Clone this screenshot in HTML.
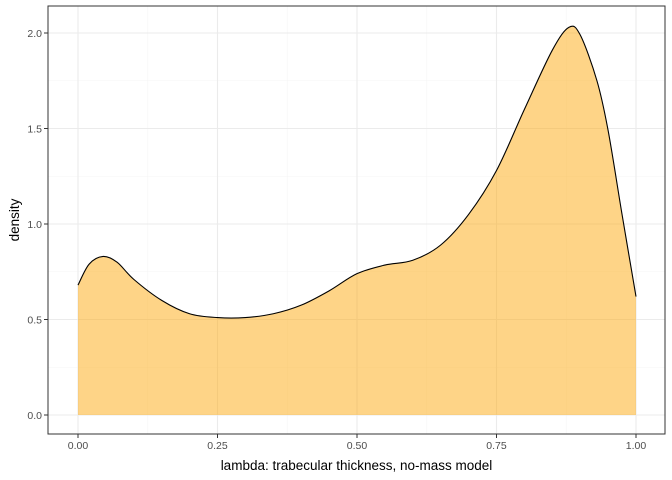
<!DOCTYPE html>
<html><head><meta charset="utf-8"><style>
body{margin:0;background:#fff;}
svg{display:block;font-family:"Liberation Sans",sans-serif;}
</style></head><body>
<svg id="chart" width="672" height="480"></svg>
<script>
const xs=[0,0.02,0.045,0.07,0.1,0.15,0.2,0.25,0.3,0.35,0.4,0.45,0.5,0.55,0.6,0.65,0.7,0.75,0.8,0.85,0.88,0.9,0.93,0.95,0.975,1.0];
const ys=[0.68,0.79,0.83,0.80,0.71,0.60,0.53,0.51,0.51,0.53,0.575,0.65,0.74,0.785,0.81,0.89,1.05,1.28,1.6,1.91,2.03,1.99,1.75,1.49,1.05,0.62];
const xTicks=[0,0.25,0.5,0.75,1.0];
const xLabels=["0.00","0.25","0.50","0.75","1.00"];
const yTicks=[0,0.5,1.0,1.5,2.0];
const yLabels=["0.0","0.5","1.0","1.5","2.0"];
const NS="http://www.w3.org/2000/svg";
const svg=document.getElementById('chart');
const L=48,R=665,T=6,B=434;
const X=v=>78+v*558, Y=v=>415-v*191;
function el(t,a,p){const e=document.createElementNS(NS,t);for(const k in a)e.setAttribute(k,a[k]);(p||svg).appendChild(e);return e;}
// minor grid
for(let i=0;i<xTicks.length-1;i++){const g=el('line',{x1:X((xTicks[i]+xTicks[i+1])/2),x2:X((xTicks[i]+xTicks[i+1])/2),y1:T,y2:B,stroke:'#F5F5F5','stroke-width':0.6});
}
for(let i=0;i<yTicks.length;i++){const v=yTicks[i]+0.25;if(Y(v)<T)continue;const g=el('line',{x1:L,x2:R,y1:Y(v),y2:Y(v),stroke:'#F5F5F5','stroke-width':0.6});
}
xTicks.forEach((v,i)=>{const g=el('line',{x1:X(v),x2:X(v),y1:T,y2:B,stroke:'#EBEBEB','stroke-width':1.1});

const tk=el('line',{x1:X(v),x2:X(v),y1:B,y2:B+4,stroke:'#333'});

const t=el('text',{x:X(v),y:B+15,'text-anchor':'middle','font-size':10.5,fill:'#4D4D4D'});t.textContent=xLabels[i];
});
yTicks.forEach((v,i)=>{const g=el('line',{x1:L,x2:R,y1:Y(v),y2:Y(v),stroke:'#EBEBEB','stroke-width':1.1});

const tk=el('line',{x1:L-4,x2:L,y1:Y(v),y2:Y(v),stroke:'#333'});

const t=el('text',{x:L-6,y:Y(v)+4,'text-anchor':'end','font-size':10.5,fill:'#4D4D4D'});t.textContent=yLabels[i];
});
// smooth curve
const pts=xs.map((x,i)=>[X(x),Y(ys[i])]);
let d=`M${pts[0][0]},${pts[0][1]}`;
for(let i=0;i<pts.length-1;i++){const p0=pts[Math.max(0,i-1)],p1=pts[i],p2=pts[i+1],p3=pts[Math.min(pts.length-1,i+2)];
d+=` C${p1[0]+(p2[0]-p0[0])/6},${p1[1]+(p2[1]-p0[1])/6} ${p2[0]-(p3[0]-p1[0])/6},${p2[1]-(p3[1]-p1[1])/6} ${p2[0]},${p2[1]}`;}
const area=el('path',{d:d+` L${X(1)},${Y(0)} L${X(0)},${Y(0)} Z`,fill:'#FDA90F','fill-opacity':0.5,stroke:'none'});

const line=el('path',{d:d,fill:'none',stroke:'#000','stroke-width':1.1});

const border=el('rect',{x:L,y:T,width:R-L,height:B-T,fill:'none',stroke:'#333','stroke-width':1});

const xt=el('text',{x:(L+R)/2,y:470,'text-anchor':'middle','font-size':13.5,fill:'#000'});xt.textContent='lambda: trabecular thickness, no-mass model';

const yt=el('text',{x:0,y:0,'text-anchor':'middle','font-size':13.5,fill:'#000',transform:`translate(19,${(T+B)/2}) rotate(-90)`});yt.textContent='density';

</script>
</body></html>
